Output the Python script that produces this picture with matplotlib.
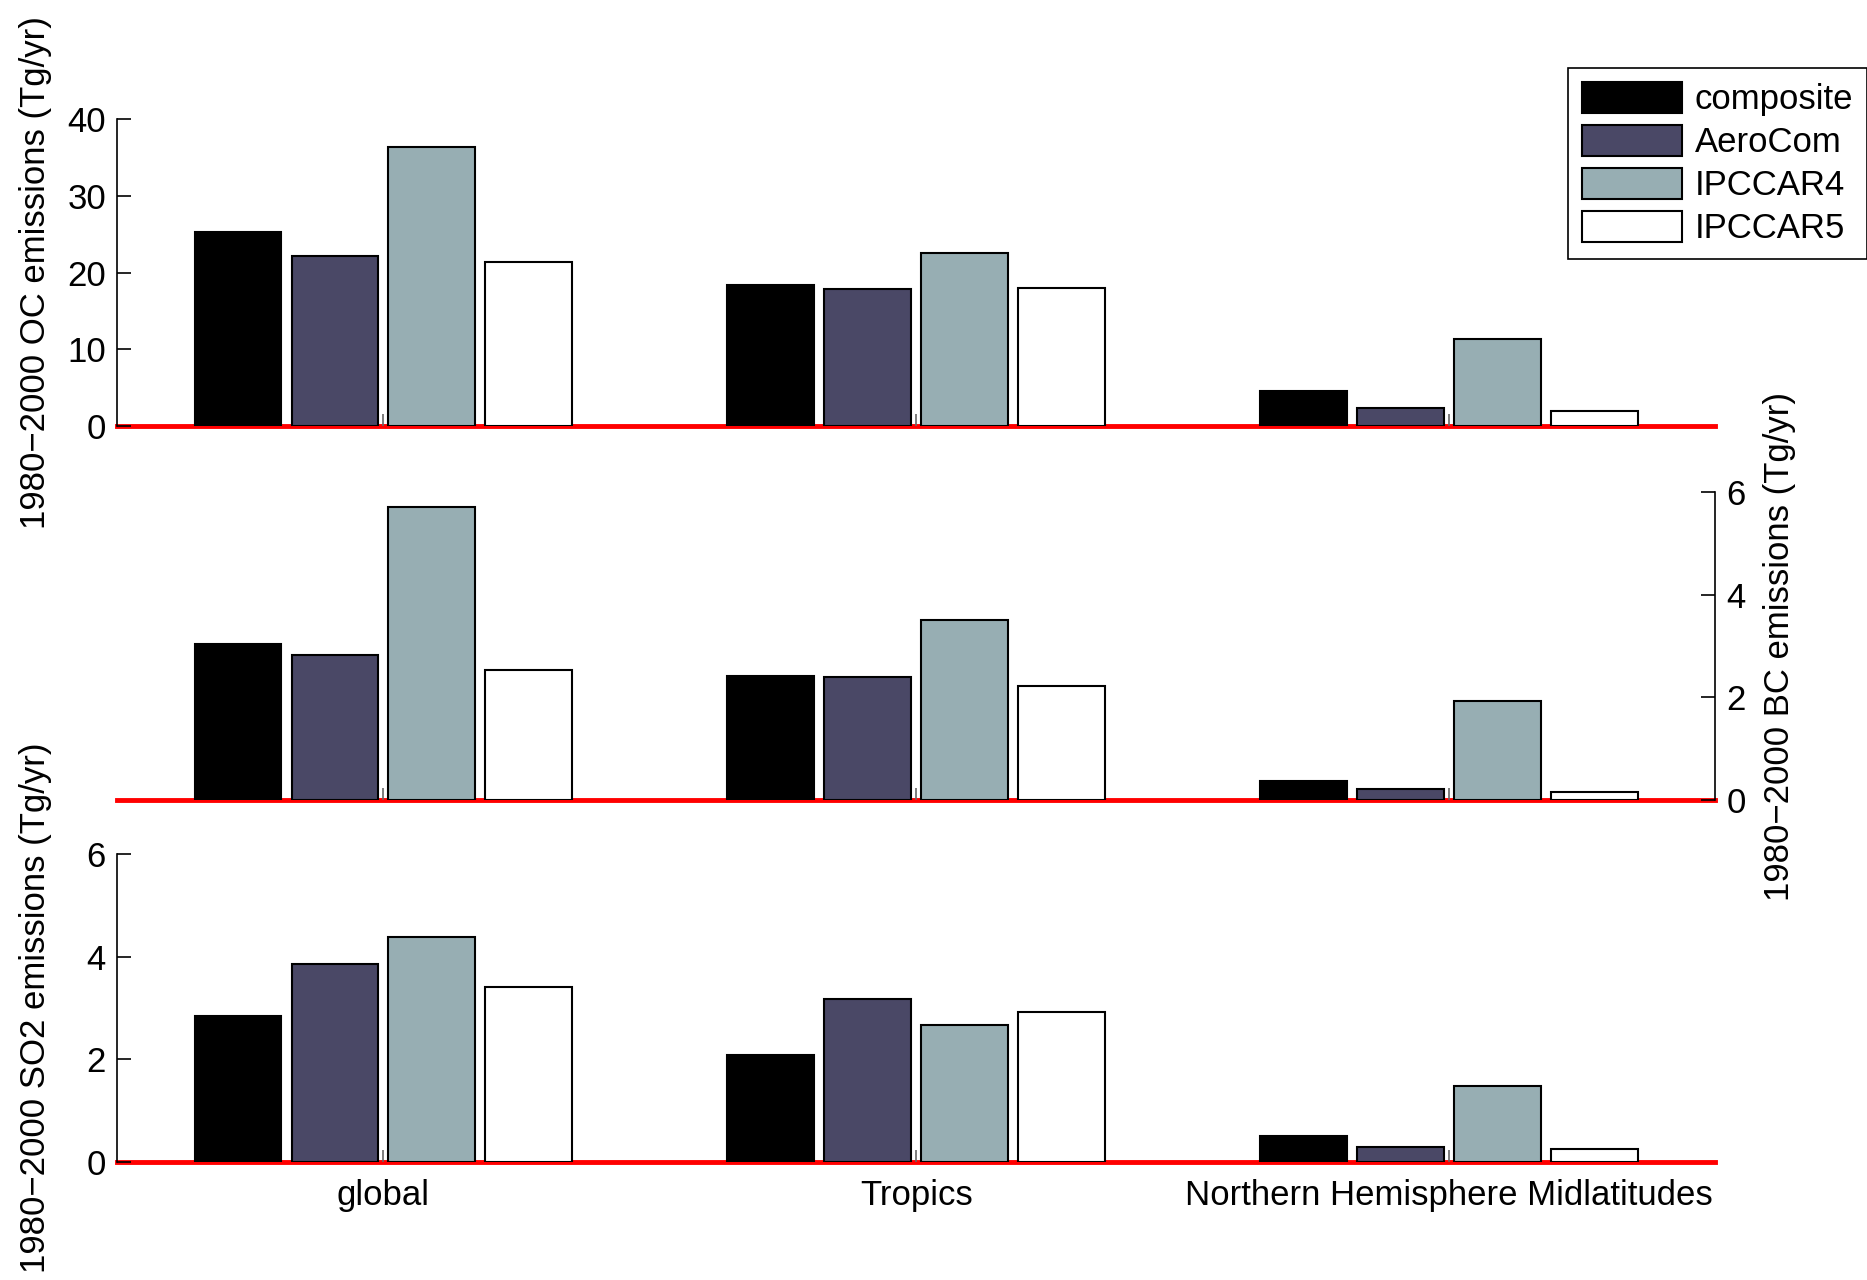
import numpy as np
import matplotlib
matplotlib.use('Agg')
import matplotlib.pyplot as plt

# regions and emission sources
regions = ['global', 'Tropics', 'Northern Hemisphere Midlatitudes']
sources = ['composite', 'AeroCom', 'IPCCAR4', 'IPCCAR5']
colors = ['#000000', '#4a4866', '#97aeb3', '#ffffff']

# 1980-2000 emission changes (Tg/yr), one list per source: global, Tropics, NH midlat
oc_composite = [25.3, 18.4, 4.6]
oc_aerocom = [22.2, 17.8, 2.3]
oc_ar4 = [36.4, 22.5, 11.3]
oc_ar5 = [21.4, 18.0, 1.9]

bc_composite = [3.04, 2.41, 0.37]
bc_aerocom = [2.83, 2.40, 0.21]
bc_ar4 = [5.70, 3.50, 1.92]
bc_ar5 = [2.53, 2.22, 0.16]

so2_composite = [2.85, 2.09, 0.51]
so2_aerocom = [3.85, 3.17, 0.30]
so2_ar4 = [4.38, 2.67, 1.48]
so2_ar5 = [3.41, 2.92, 0.25]

oc = [oc_composite, oc_aerocom, oc_ar4, oc_ar5]
bc = [bc_composite, bc_aerocom, bc_ar4, bc_ar5]
so2 = [so2_composite, so2_aerocom, so2_ar4, so2_ar5]

plt.rcParams['font.family'] = ['Liberation Sans', 'DejaVu Sans']
plt.rcParams['font.size'] = 25

fig = plt.figure(figsize=(18.67, 12.80), dpi=100)
left, width = 0.0627, 0.856
ax_oc = fig.add_axes([left, 0.6672, width, 0.2398])
ax_bc = fig.add_axes([left, 0.375, width, 0.2406])
ax_so2 = fig.add_axes([left, 0.0922, width, 0.2406])

x = np.arange(1, len(regions) + 1)
offsets = [-0.273, -0.091, 0.091, 0.273]
bar_w = 0.163


def draw_panel(ax, data, ymax, yticks, side):
    handles = []
    for vals, off, c, name in zip(data, offsets, colors, sources):
        h = ax.bar(x + off, vals, bar_w, color=c, edgecolor='black',
                   linewidth=1.5, zorder=2, label=name)
        handles.append(h)
    # red zero line across the whole panel
    ax.axhline(0, color='red', lw=3.5, zorder=1.5, clip_on=False)
    ax.set_xlim(0.5, 3.5)
    ax.set_ylim(0, ymax)
    ax.set_yticks(yticks)
    for s in ['top', 'bottom', 'left', 'right']:
        ax.spines[s].set_visible(False)
    ax.spines[side].set_visible(True)
    ax.spines[side].set_linewidth(1.2)
    if side == 'right':
        ax.yaxis.tick_right()
        ax.yaxis.set_label_position('right')
    ax.tick_params(axis='y', direction='in', length=10, width=1.2, pad=8)
    ax.set_xticks(x)
    ax.tick_params(axis='x', direction='in', length=9, width=1.2,
                   color='#666666', pad=12)
    ax.patch.set_alpha(0)
    return handles


handles = draw_panel(ax_oc, oc, 40, [0, 10, 20, 30, 40], 'left')
draw_panel(ax_bc, bc, 6, [0, 2, 4, 6], 'right')
draw_panel(ax_so2, so2, 6, [0, 2, 4, 6], 'left')

ax_oc.set_xticklabels([])
ax_bc.set_xticklabels([])
ax_so2.set_xticklabels(regions)

ax_oc.set_ylabel('1980\u22122000 OC emissions (Tg/yr)')
ax_oc.yaxis.set_label_coords(-0.041, 0.5)
ax_bc.set_ylabel('1980\u22122000 BC emissions (Tg/yr)')
ax_bc.yaxis.set_label_coords(1.030, 0.5)
ax_so2.set_ylabel('1980\u22122000 SO2 emissions (Tg/yr)')
ax_so2.yaxis.set_label_coords(-0.041, 0.5)

leg = fig.legend(handles=handles, labels=sources, loc='upper right',
                 bbox_to_anchor=(1.0, 0.947), borderaxespad=0,
                 handlelength=2.9, handleheight=1.0, handletextpad=0.35,
                 labelspacing=0.25, borderpad=0.4, fancybox=False,
                 framealpha=1, edgecolor='black')
leg.get_frame().set_linewidth(1.2)

fig.savefig('out.png', dpi=100)
